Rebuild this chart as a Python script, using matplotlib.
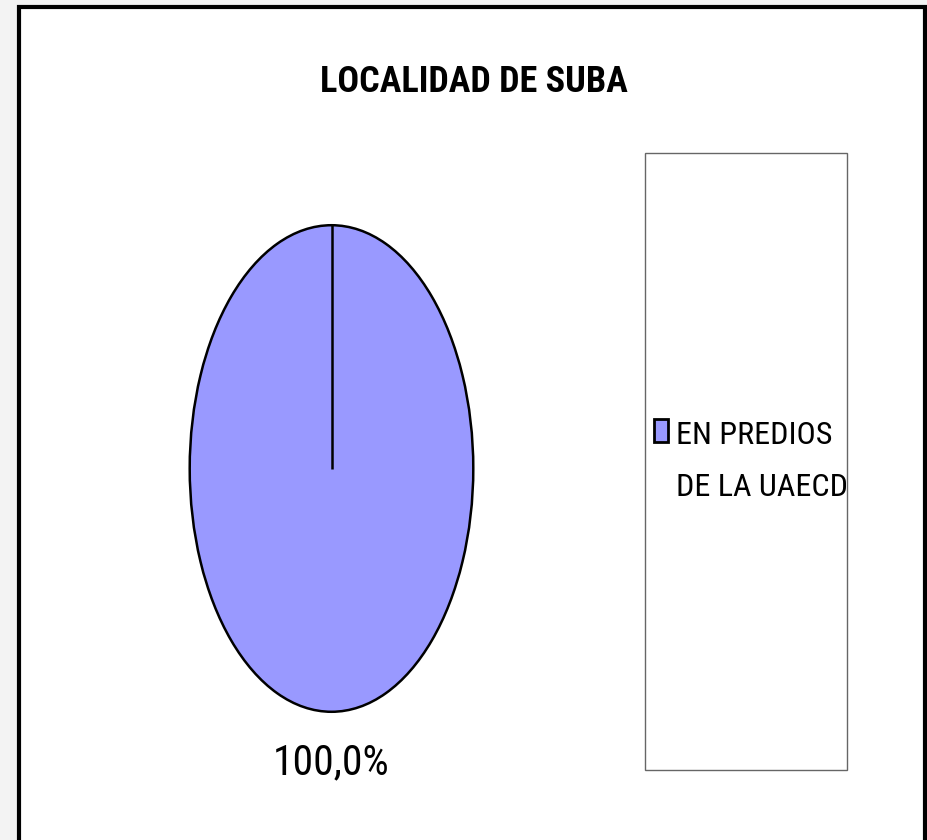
import numpy as np
import matplotlib.pyplot as plt
from matplotlib.patches import Rectangle

# data
title = "LOCALIDAD DE SUBA"
categories = ["EN PREDIOS\nDE LA UAECD"]
shares = [100.0]
slice_colors = ["#9999FF"]

FONT = ["Roboto Condensed", "DejaVu Sans"]

W, H = 928, 840
fig = plt.figure(figsize=(W / 100, H / 100), dpi=100)
fig.patch.set_facecolor("#f3f3f3")

def fx(x):
    return x / W

def fy(y):
    return 1 - y / H

def box(x0, y0, x1, y1, **kw):
    """rectangle in pixel coords (top-left origin) on the figure"""
    r = Rectangle((fx(x0), fy(y1)), fx(x1) - fx(x0), fy(y0) - fy(y1),
                  transform=fig.transFigure, **kw)
    fig.patches.append(r)
    return r

# white chart area with heavy black frame
box(19, 7, 925, 850, facecolor="white", edgecolor="black", linewidth=3, zorder=-5)

fig.text(fx(474), fy(82), title, ha="center", va="center", fontsize=26,
         fontweight="bold", family=FONT)

# pie stretched into an ellipse
ax = fig.add_axes([fx(189), fy(713), fx(474) - fx(189), fy(224) - fy(713)])
ax.set_zorder(2)
ax.patch.set_alpha(0)
wedges, _ = ax.pie(shares, colors=slice_colors, startangle=90, counterclock=False,
                   wedgeprops=dict(edgecolor="black", linewidth=1.8), radius=1)
# a full slice has no radial edge of its own, so draw its seam
for w in wedges:
    cx, cy = w.center
    ang = np.deg2rad(w.theta2)
    ax.plot([cx, cx + w.r * np.cos(ang)], [cy, cy + w.r * np.sin(ang)],
            color="black", lw=1.8, solid_capstyle="butt")
ax.set_xlim(-1.005, 1.005)
ax.set_ylim(-1.005, 1.005)
ax.set_aspect("auto")
ax.axis("off")

fig.text(fx(331), fy(763), f"{shares[0]:.1f}%".replace(".", ","), ha="center",
         va="center", fontsize=30, family=FONT)

# legend box
box(645, 153, 847, 770, facecolor="white", edgecolor="#666666", linewidth=1, zorder=1)
box(654, 419, 668, 442, facecolor=slice_colors[0], edgecolor="black", linewidth=2, zorder=2)
fig.text(fx(676), fy(461), categories[0], ha="left", va="center", fontsize=23,
         family=FONT, linespacing=2.0, zorder=3)

fig.savefig("out.png", dpi=100, facecolor=fig.get_facecolor())
